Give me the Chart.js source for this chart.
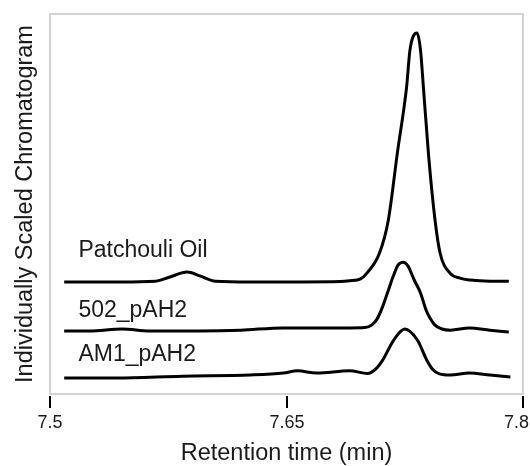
<!DOCTYPE html>
<html>
<head>
<meta charset="utf-8">
<script src="https://cdn.jsdelivr.net/npm/chart.js@4.4.0/dist/chart.umd.min.js"></script>
<style>
    html, body { margin: 0; padding: 0; background: #fff; }
    #wrap { width: 530px; height: 466px; position: relative; }
</style>
</head>
<body>
<div id="wrap"><canvas id="chromatogram-chart"></canvas></div>
<script>
// Retention time (min) and stacked, individually scaled signal
const patchouliTime = [7.509, 7.544, 7.567, 7.576, 7.587, 7.595, 7.605, 7.627, 7.659, 7.684, 7.690, 7.697,
    7.701, 7.709, 7.7146, 7.7203, 7.7262, 7.7283, 7.7328, 7.7350, 7.7368, 7.740, 7.7442, 7.7474, 7.7537,
    7.760, 7.7664, 7.779, 7.791];
const patchouliSignal = [29.5, 29.5, 29.7, 30.8, 32.1, 31.1, 29.7, 29.5, 29.5, 29.6, 29.8, 30.3,
    31.8, 37.1, 45.8, 63.4, 80.9, 90.5, 95.0, 90.5, 80.9, 63.4, 45.8, 37.1, 31.8,
    30.5, 30.0, 29.7, 29.7];

const pah502Time = [7.509, 7.525, 7.546, 7.563, 7.595, 7.621, 7.648, 7.671, 7.690, 7.6998, 7.7042, 7.7074,
    7.7106, 7.714, 7.718, 7.7207, 7.724, 7.727, 7.731, 7.735, 7.7385, 7.741, 7.744, 7.7486, 7.754,
    7.766, 7.779, 7.791];
const pah502Signal = [16.6, 16.6, 17.1, 16.6, 16.6, 16.8, 17.4, 17.4, 17.4, 17.5, 18.2, 19.7,
    22.6, 26.6, 31.3, 33.9, 34.7, 33.7, 30.0, 26.6, 22.1, 20.0, 18.2, 17.1, 16.8,
    17.4, 16.8, 16.3];

const am1Time = [7.509, 7.542, 7.584, 7.627, 7.648, 7.657, 7.669, 7.690, 7.7015, 7.7067, 7.711, 7.718,
    7.725, 7.733, 7.739, 7.7425, 7.747, 7.754, 7.766, 7.779, 7.792];
const am1Signal = [4.2, 4.2, 4.7, 5.0, 5.5, 6.1, 5.5, 6.1, 5.4, 6.6, 8.9, 14.2,
    17.1, 14.2, 8.9, 6.6, 5.3, 5.0, 5.5, 5.0, 4.5];

const seriesNames = ['Patchouli Oil', '502_pAH2', 'AM1_pAH2'];
const xTickValues = [7.5, 7.65, 7.8];
const xTickLabels = ['7.5', '7.65', '7.8'];

const FONT = "'Liberation Sans', Arial, sans-serif";

function toPoints(times, values) {
    return times.map((t, i) => ({ x: t, y: values[i] }));
}

// Grey frame, x tick marks + labels, and the trace names
const framePlugin = {
    id: 'frameAndNames',
    afterDraw(chart, args, opts) {
        const { ctx, chartArea, scales } = chart;
        ctx.save();
        ctx.setLineDash([]);
        ctx.globalAlpha = 1;
        ctx.strokeStyle = '#d2d2d2';
        ctx.lineWidth = 2;
        ctx.strokeRect(chartArea.left, chartArea.top, chartArea.right - chartArea.left, chartArea.bottom - chartArea.top);

        // tick marks and labels under the frame
        ctx.fillStyle = '#000';
        ctx.font = '18px ' + FONT;
        ctx.textAlign = 'center';
        ctx.textBaseline = 'middle';
        xTickValues.forEach((v, i) => {
            const px = Math.round(scales.x.getPixelForValue(v));
            ctx.fillRect(px - 1, chartArea.bottom + 2, 2, 12);
            const w = ctx.measureText(xTickLabels[i]).width;
            const lx = Math.min(px, chart.width - w / 2 - 1);
            ctx.fillStyle = '#1a1a1a';
            ctx.fillText(xTickLabels[i], lx, chartArea.bottom + 29);
            ctx.fillStyle = '#000';
        });

        ctx.fillStyle = '#1a1a1a';
        ctx.font = '23px ' + FONT;
        ctx.textBaseline = 'alphabetic';
        ctx.textAlign = 'left';
        opts.anchors.forEach((a, i) => {
            ctx.fillText(seriesNames[i], scales.x.getPixelForValue(a.x), scales.y.getPixelForValue(a.y));
        });
        ctx.restore();
    }
};

const traceStyle = {
    borderColor: '#000',
    borderWidth: 3,
    pointRadius: 0,
    fill: false,
    cubicInterpolationMode: 'monotone'
};

new Chart(document.getElementById('chromatogram-chart').getContext('2d'), {
    type: 'line',
    data: {
        datasets: [
            { label: seriesNames[0], data: toPoints(patchouliTime, patchouliSignal), ...traceStyle },
            { label: seriesNames[1], data: toPoints(pah502Time, pah502Signal), ...traceStyle },
            { label: seriesNames[2], data: toPoints(am1Time, am1Signal), ...traceStyle }
        ]
    },
    options: {
        responsive: true,
        maintainAspectRatio: false,
        animation: false,
        layout: { padding: { top: 14, right: 7, left: 0, bottom: 0 } },
        plugins: {
            legend: { display: false },
            tooltip: { enabled: false },
            frameAndNames: {
                anchors: [{ x: 7.518, y: 36.0 }, { x: 7.518, y: 20.3 }, { x: 7.518, y: 8.7 }]
            }
        },
        scales: {
            x: {
                type: 'linear',
                min: 7.5,
                max: 7.8,
                afterBuildTicks: scale => {
                    scale.ticks = xTickValues.map(v => ({ value: v }));
                },
                afterFit: scale => {
                    scale.height = 72;
                    scale.paddingLeft = 0;
                    scale.paddingRight = 0;
                },
                ticks: { display: false },
                grid: { display: false },
                border: { display: false },
                title: {
                    display: true,
                    text: 'Retention time (min)',
                    color: '#1a1a1a',
                    font: { family: FONT, size: 23.5 },
                    padding: { top: 0, bottom: -2 }
                }
            },
            y: {
                type: 'linear',
                min: 0,
                max: 100,
                afterFit: scale => {
                    scale.width = 50;
                },
                ticks: { display: false },
                grid: { display: false },
                border: { display: false },
                title: {
                    display: true,
                    text: 'Individually Scaled Chromatogram',
                    color: '#1a1a1a',
                    font: { family: FONT, size: 23.5 },
                    padding: { top: 11, bottom: 0 }
                }
            }
        }
    },
    plugins: [framePlugin]
});
</script>
</body>
</html>
